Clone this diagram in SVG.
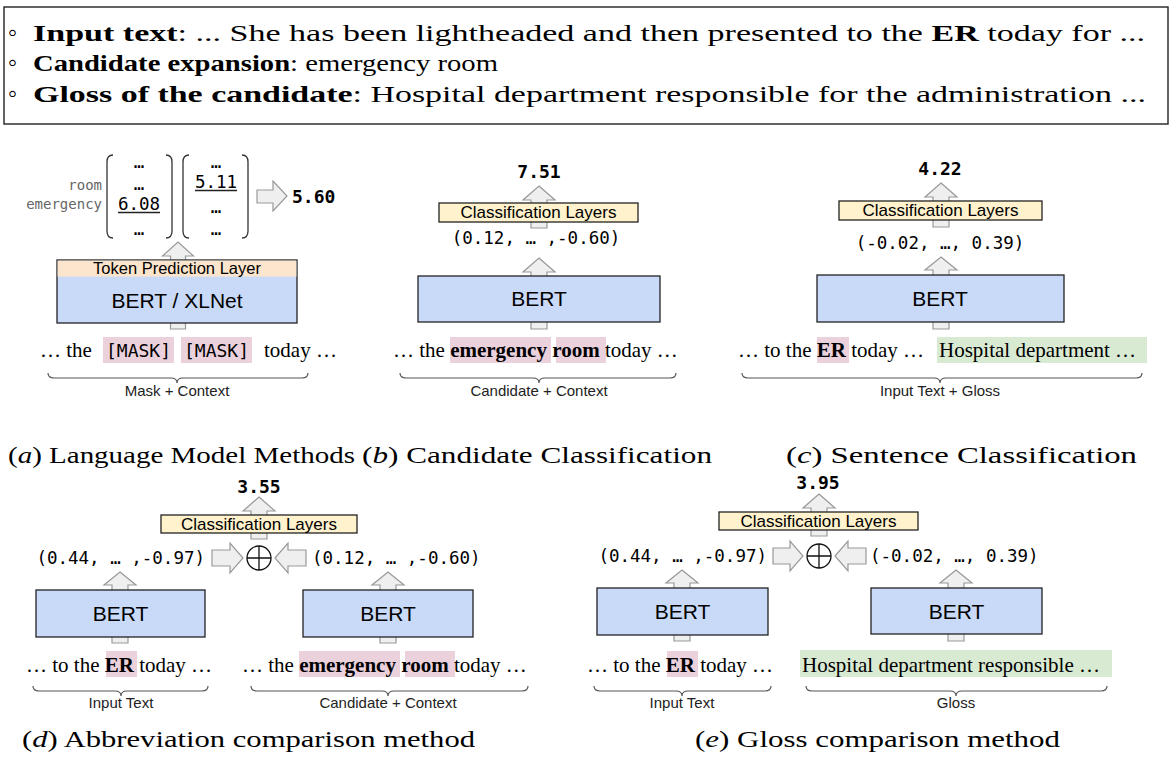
<svg xmlns="http://www.w3.org/2000/svg" width="1172" height="763" viewBox="0 0 1172 763">
  <style>
    .ser{font-family:"Liberation Serif","Times New Roman",serif}
    .sans{font-family:"Liberation Sans",Arial,sans-serif}
    .mono{font-family:"DejaVu Sans Mono","Liberation Mono",monospace}
    .bert{fill:#c9daf8;stroke:#222;stroke-width:1.3}
    .cls{fill:#fff2cc;stroke:#222;stroke-width:1.3}
    .arr{fill:#efefef;stroke:#999;stroke-width:1.2;stroke-linejoin:miter}
    .brace{fill:none;stroke:#555;stroke-width:1.2}
    .hlp{fill:#ead1dc}
    .hlg{fill:#d9ead3}
    .paren{fill:none;stroke:#333;stroke-width:1.3}
    .vec{font-size:17.5px}
    .num{font-size:18px;font-weight:bold}
    .lbl{font-size:15px;fill:#222}
    .line{font-size:21px}
    .cap{font-size:23px}
  </style>

  <!-- example box -->
  <g id="example">
    <rect x="4" y="7" width="1164" height="117" fill="none" stroke="#222" stroke-width="1.4"/>
    <g class="ser" font-size="23">
      <text x="8" y="41" font-size="26">◦</text>
      <text x="33" y="41" textLength="1112" lengthAdjust="spacingAndGlyphs"><tspan font-weight="bold">Input text</tspan>: ... She has been lightheaded and then presented to the <tspan font-weight="bold">ER</tspan> today for ...</text>
      <text x="8" y="71" font-size="26">◦</text>
      <text x="33" y="71" textLength="465" lengthAdjust="spacingAndGlyphs"><tspan font-weight="bold">Candidate expansion</tspan>: emergency room</text>
      <text x="8" y="102" font-size="26">◦</text>
      <text x="33" y="102" textLength="1113" lengthAdjust="spacingAndGlyphs"><tspan font-weight="bold">Gloss of the candidate</tspan>: Hospital department responsible for the administration ...</text>
    </g>
  </g>

  <!-- block arrows (drawn first, boxes sit over them) -->
  <g id="connectors">
    <!-- (a) -->
    <path class="arr" d="M178,242 L193.5,256 L185.5,256 L185.5,329 L170.5,329 L170.5,256 L162.5,256 Z"/>
    <path class="arr" d="M257,190 L273,190 L273,181 L287,196 L273,211 L273,203 L257,203 Z"/>
    <!-- (b) -->
    <path class="arr" d="M539,186 L555,200 L547,200 L547,228 L531,228 L531,200 L523,200 Z"/>
    <path class="arr" d="M539,258 L555,272 L547,272 L547,329 L531,329 L531,272 L523,272 Z"/>
    <!-- (c) -->
    <path class="arr" d="M941,183 L957,197 L949,197 L949,227 L933,227 L933,197 L925,197 Z"/>
    <path class="arr" d="M941,257 L957,270 L949,270 L949,329 L933,329 L933,270 L925,270 Z"/>
    <!-- (d) -->
    <path class="arr" d="M259,497 L275,511 L267,511 L267,539 L251,539 L251,511 L243,511 Z"/>
    <path class="arr" d="M120,572 L136,585 L128,585 L128,643 L112,643 L112,585 L104,585 Z"/>
    <path class="arr" d="M388,572 L404,585 L396,585 L396,643 L380,643 L380,585 L372,585 Z"/>
    <path class="arr" d="M212,550 L230,550 L230,543 L243,558 L230,573 L230,566 L212,566 Z"/>
    <path class="arr" d="M275,558 L288,543 L288,550 L306,550 L306,566 L288,566 L288,573 Z"/>
    <!-- (e) -->
    <path class="arr" d="M819,494 L835,508 L827,508 L827,536 L811,536 L811,508 L803,508 Z"/>
    <path class="arr" d="M682,570 L698,583 L690,583 L690,641 L674,641 L674,583 L666,583 Z"/>
    <path class="arr" d="M956,570 L972,583 L964,583 L964,641 L948,641 L948,583 L940,583 Z"/>
    <path class="arr" d="M773,548 L790,548 L790,541 L803,556 L790,571 L790,564 L773,564 Z"/>
    <path class="arr" d="M835,556 L848,541 L848,548 L866,548 L866,564 L848,564 L848,571 Z"/>
  </g>

  <!-- (a) Language model methods -->
  <g id="panel-a">
    <g class="mono" font-size="14" fill="#666" text-anchor="end">
      <text x="102" y="190">room</text>
      <text x="102" y="209">emergency</text>
    </g>
    <path class="paren" d="M113,155 Q107,155 107,162 L107,231 Q107,238 113,238"/>
    <path class="paren" d="M166,155 Q172,155 172,162 L172,231 Q172,238 166,238"/>
    <path class="paren" d="M189,155 Q183,155 183,162 L183,231 Q183,238 189,238"/>
    <path class="paren" d="M242,155 Q248,155 248,162 L248,231 Q248,238 242,238"/>
    <g class="mono vec" text-anchor="middle">
      <text x="139" y="168">…</text>
      <text x="139" y="190">…</text>
      <text x="139" y="210">6.08</text>
      <text x="139" y="235">…</text>
      <text x="216" y="168">…</text>
      <text x="216" y="188">5.11</text>
      <text x="216" y="213">…</text>
      <text x="216" y="235">…</text>
    </g>
    <line x1="118" y1="212.5" x2="160" y2="212.5" stroke="#222" stroke-width="1.3"/>
    <line x1="195" y1="190.5" x2="237" y2="190.5" stroke="#222" stroke-width="1.3"/>
    <text class="mono num" x="292" y="203">5.60</text>

    <rect x="57" y="260" width="240" height="63" class="bert"/>
    <rect x="57.6" y="260.6" width="238.8" height="16" fill="#fce5cd"/>
    <text class="sans" x="177" y="274" font-size="16.5" text-anchor="middle">Token Prediction Layer</text>
    <text class="sans" x="177" y="308" font-size="21" text-anchor="middle">BERT / XLNet</text>

    <rect class="hlp" x="103" y="337" width="71" height="26"/>
    <rect class="hlp" x="181" y="337" width="71" height="26"/>
    <text class="ser line" x="40" y="357">… the</text>
    <text class="mono" x="138.5" y="357" font-size="18" text-anchor="middle">[MASK]</text>
    <text class="mono" x="216.5" y="357" font-size="18" text-anchor="middle">[MASK]</text>
    <text class="ser line" x="264" y="357">today …</text>
    <path class="brace" d="M48,373 Q48,378 54,378 L171,378 Q177,378 177,383 Q177,378 183,378 L302,378 Q308,378 308,373"/>
    <text class="sans lbl" x="177" y="396" text-anchor="middle">Mask + Context</text>
  </g>

  <!-- (b) Candidate classification -->
  <g id="panel-b">
    <text class="mono num" x="539" y="178" text-anchor="middle">7.51</text>
    <rect class="cls" x="439" y="203" width="199" height="19"/>
    <text class="sans" x="538.5" y="218" font-size="17" text-anchor="middle">Classification Layers</text>
    <text class="mono vec" x="536" y="244" text-anchor="middle">(0.12, … ,-0.60)</text>
    <rect class="bert" x="418" y="276" width="242" height="46"/>
    <text class="sans" x="539" y="306" font-size="21" text-anchor="middle">BERT</text>
    <rect class="hlp" x="450" y="337" width="101" height="26"/>
    <rect class="hlp" x="556" y="337" width="50" height="26"/>
    <text class="ser line" x="393" y="357">… the <tspan font-weight="bold">emergency</tspan> <tspan font-weight="bold">room</tspan> today …</text>
    <path class="brace" d="M400,373 Q400,378 406,378 L533,378 Q539,378 539,383 Q539,378 545,378 L670,378 Q676,378 676,373"/>
    <text class="sans lbl" x="539" y="396" text-anchor="middle">Candidate + Context</text>
  </g>

  <!-- (c) Sentence classification -->
  <g id="panel-c">
    <text class="mono num" x="940" y="175" text-anchor="middle">4.22</text>
    <rect class="cls" x="839" y="201" width="203" height="19"/>
    <text class="sans" x="940.5" y="216" font-size="17" text-anchor="middle">Classification Layers</text>
    <text class="mono vec" x="940" y="249" text-anchor="middle">(-0.02, …, 0.39)</text>
    <rect class="bert" x="817" y="275" width="247" height="47"/>
    <text class="sans" x="940" y="306" font-size="21" text-anchor="middle">BERT</text>
    <rect class="hlp" x="817" y="337" width="32" height="26"/>
    <rect class="hlg" x="937" y="337" width="210" height="26"/>
    <text class="ser line" x="738" y="357">… to the <tspan font-weight="bold">ER</tspan> today …</text>
    <text class="ser line" x="939" y="357">Hospital department …</text>
    <path class="brace" d="M742,373 Q742,378 748,378 L934,378 Q940,378 940,383 Q940,378 946,378 L1136,378 Q1142,378 1142,373"/>
    <text class="sans lbl" x="940" y="396" text-anchor="middle">Input Text + Gloss</text>
  </g>

  <!-- (d) Abbreviation comparison method -->
  <g id="panel-d">
    <text class="mono num" x="259" y="493" text-anchor="middle">3.55</text>
    <rect class="cls" x="161" y="515" width="196" height="18"/>
    <text class="sans" x="259" y="529.5" font-size="17" text-anchor="middle">Classification Layers</text>
    <text class="mono vec" x="205" y="564" text-anchor="end">(0.44, … ,-0.97)</text>
    <circle cx="259" cy="558" r="12" fill="#fff" stroke="#111" stroke-width="1.3"/>
    <path d="M247,558 H271 M259,546 V570" stroke="#111" stroke-width="1.3"/>
    <text class="mono vec" x="312" y="564">(0.12, … ,-0.60)</text>
    <rect class="bert" x="36" y="590" width="169" height="47"/>
    <text class="sans" x="120.5" y="621" font-size="21" text-anchor="middle">BERT</text>
    <rect class="bert" x="303" y="590" width="170" height="47"/>
    <text class="sans" x="388" y="621" font-size="21" text-anchor="middle">BERT</text>
    <rect class="hlp" x="106" y="651" width="31" height="26"/>
    <text class="ser line" x="26" y="672">… to the <tspan font-weight="bold">ER</tspan> today …</text>
    <rect class="hlp" x="299" y="651" width="101" height="26"/>
    <rect class="hlp" x="405" y="651" width="50" height="26"/>
    <text class="ser line" x="242" y="672">… the <tspan font-weight="bold">emergency</tspan> <tspan font-weight="bold">room</tspan> today …</text>
    <path class="brace" d="M33,686 Q33,691 39,691 L115,691 Q121,691 121,696 Q121,691 127,691 L202,691 Q208,691 208,686"/>
    <text class="sans lbl" x="121" y="708" text-anchor="middle">Input Text</text>
    <path class="brace" d="M251,686 Q251,691 257,691 L382,691 Q388,691 388,696 Q388,691 394,691 L522,691 Q528,691 528,686"/>
    <text class="sans lbl" x="388" y="708" text-anchor="middle">Candidate + Context</text>
  </g>

  <!-- (e) Gloss comparison method -->
  <g id="panel-e">
    <text class="mono num" x="818" y="489" text-anchor="middle">3.95</text>
    <rect class="cls" x="719" y="512" width="199" height="18"/>
    <text class="sans" x="818.5" y="526.5" font-size="17" text-anchor="middle">Classification Layers</text>
    <text class="mono vec" x="767" y="562" text-anchor="end">(0.44, … ,-0.97)</text>
    <circle cx="819" cy="556" r="12" fill="#fff" stroke="#111" stroke-width="1.3"/>
    <path d="M807,556 H831 M819,544 V568" stroke="#111" stroke-width="1.3"/>
    <text class="mono vec" x="870" y="562">(-0.02, …, 0.39)</text>
    <rect class="bert" x="597" y="588" width="171" height="47"/>
    <text class="sans" x="682.5" y="619" font-size="21" text-anchor="middle">BERT</text>
    <rect class="bert" x="871" y="588" width="171" height="46"/>
    <text class="sans" x="956.5" y="619" font-size="21" text-anchor="middle">BERT</text>
    <rect class="hlp" x="667" y="651" width="31" height="26"/>
    <text class="ser line" x="587" y="672">… to the <tspan font-weight="bold">ER</tspan> today …</text>
    <rect class="hlg" x="800" y="650" width="312" height="27"/>
    <text class="ser line" x="802" y="672">Hospital department responsible …</text>
    <path class="brace" d="M594,686 Q594,691 600,691 L676,691 Q682,691 682,696 Q682,691 688,691 L765,691 Q771,691 771,686"/>
    <text class="sans lbl" x="682" y="708" text-anchor="middle">Input Text</text>
    <path class="brace" d="M806,686 Q806,691 812,691 L950,691 Q956,691 956,696 Q956,691 962,691 L1101,691 Q1107,691 1107,686"/>
    <text class="sans lbl" x="956" y="708" text-anchor="middle">Gloss</text>
  </g>

  <!-- sub-figure captions -->
  <g id="captions" class="ser cap">
    <text x="8" y="463" textLength="347" lengthAdjust="spacingAndGlyphs">(<tspan font-style="italic">a</tspan>) Language Model Methods</text>
    <text x="362" y="463" textLength="350" lengthAdjust="spacingAndGlyphs">(<tspan font-style="italic">b</tspan>) Candidate Classification</text>
    <text x="786" y="463" textLength="351" lengthAdjust="spacingAndGlyphs">(<tspan font-style="italic">c</tspan>) Sentence Classification</text>
    <text x="22" y="747" textLength="453" lengthAdjust="spacingAndGlyphs">(<tspan font-style="italic">d</tspan>) Abbreviation comparison method</text>
    <text x="695" y="747" textLength="365" lengthAdjust="spacingAndGlyphs">(<tspan font-style="italic">e</tspan>) Gloss comparison method</text>
  </g>
</svg>
